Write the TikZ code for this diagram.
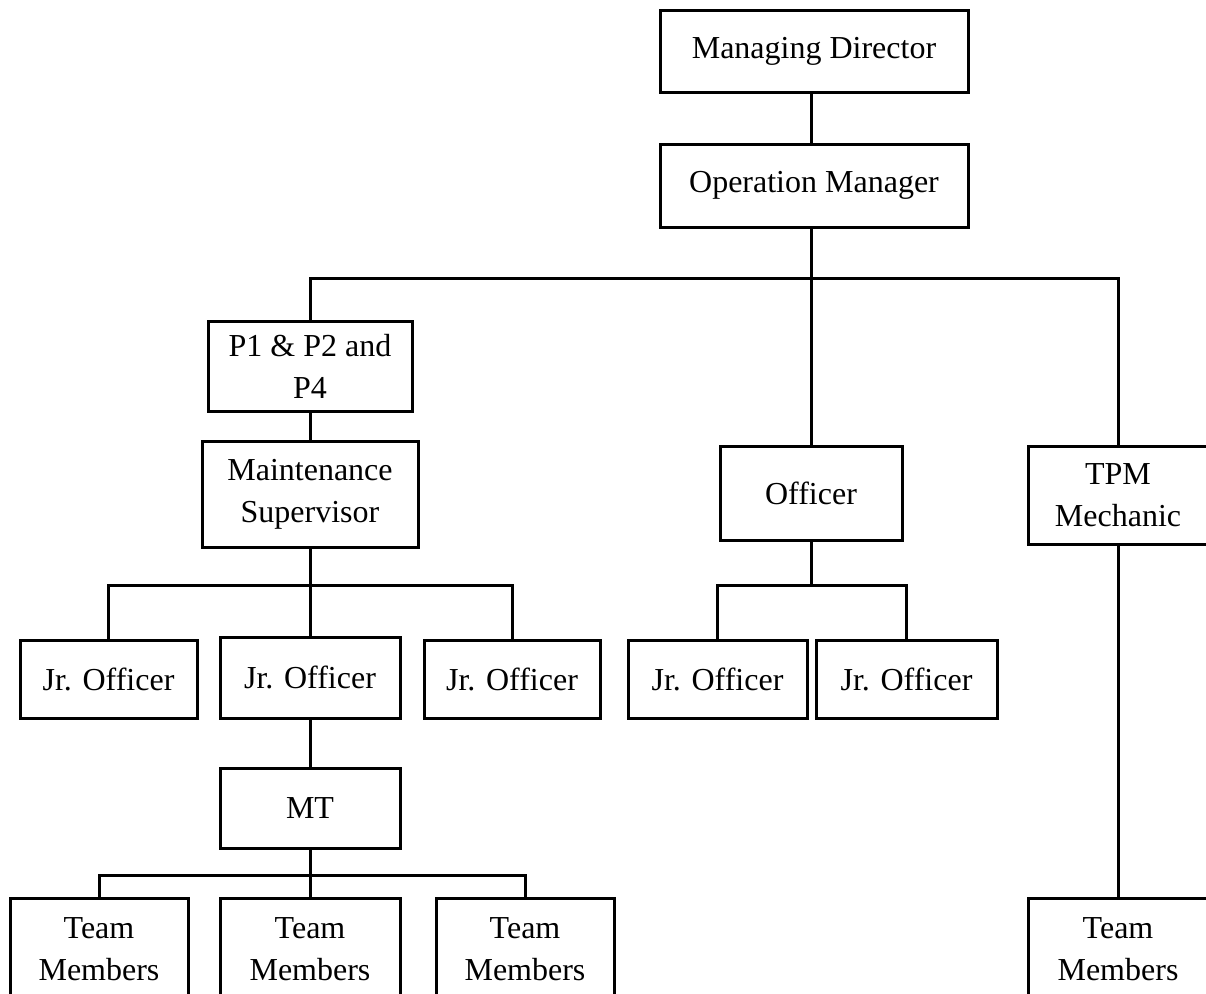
\documentclass[tikz,border=0pt]{standalone}
\usepackage{fontspec}
\setmainfont{Liberation Serif}
\begin{document}
\begin{tikzpicture}[x=1pt,y=-1pt,
  box/.style={draw, line width=3pt, inner sep=0pt, align=center,
    font=\fontsize{32}{42}\selectfont},
  conn/.style={line width=3pt}]
\clip (0,0) rectangle (1206,993);
\fill[white] (0,0) rectangle (1206,993);
\node[box, minimum width=308, minimum height=82] (md) at (814,51) {Managing Director};
\node[box, minimum width=308, minimum height=83] (om) at (814,185.5) {Operation Manager};
\node[box, minimum width=204, minimum height=90] (p1) at (310,366) {P1 \& P2 and\\P4};
\node[box, minimum width=216, minimum height=106] (ms) at (310,494) {Maintenance\\Supervisor};
\node[box, minimum width=182, minimum height=94] (off) at (811,493) {Officer};
\node[box, minimum width=180, minimum height=98] (tpm) at (1118,495) {TPM\\Mechanic};
\node[box, minimum width=177, minimum height=78] (jo1) at (108.5,679) {Jr. Officer};
\node[box, minimum width=180, minimum height=81] (jo2) at (310,677.5) {Jr. Officer};
\node[box, minimum width=176, minimum height=78] (jo3) at (512,679) {Jr. Officer};
\node[box, minimum width=179, minimum height=78] (jo4) at (717.5,679) {Jr. Officer};
\node[box, minimum width=181, minimum height=78] (jo5) at (906.5,679) {Jr. Officer};
\node[box, minimum width=180, minimum height=80] (mt) at (310,808) {MT};
\node[box, minimum width=178, minimum height=102] (tm1) at (99,949) {Team\\Members};
\node[box, minimum width=180, minimum height=102] (tm2) at (310,949) {Team\\Members};
\node[box, minimum width=178, minimum height=102] (tm3) at (525,949) {Team\\Members};
\node[box, minimum width=180, minimum height=102] (tm4) at (1118,949) {Team\\Members};
\coordinate (bar1) at (0,278);
\coordinate (bar2) at (0,585);
\coordinate (bar3) at (0,875);
\draw[conn] (md.south -| off.north) -- (om.north -| off.north);
\draw[conn] (om.south -| off.north) -- (off.north);
\draw[conn] (p1.north) -- (p1.north |- bar1) -- (tpm.north |- bar1) -- (tpm.north);
\draw[conn] (p1.south) -- (ms.north);
\draw[conn] (ms.south) -- (jo2.north);
\draw[conn] (jo1.north) -- (jo1.north |- bar2) -- (jo3.north |- bar2) -- (jo3.north);
\draw[conn] (off.south) -- (off.south |- bar2);
\draw[conn] (jo4.north) -- (jo4.north |- bar2) -- (jo5.north |- bar2) -- (jo5.north);
\draw[conn] (jo2.south) -- (mt.north);
\draw[conn] (mt.south) -- (tm2.north);
\draw[conn] (tm1.north) -- (tm1.north |- bar3) -- (tm3.north |- bar3) -- (tm3.north);
\draw[conn] (tpm.south) -- (tm4.north);
\end{tikzpicture}
\end{document}
